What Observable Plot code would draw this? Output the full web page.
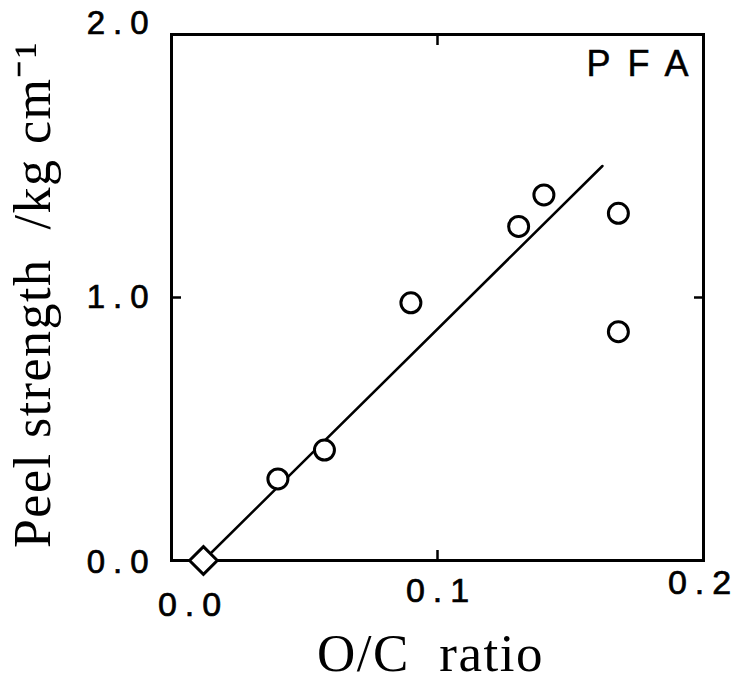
<!DOCTYPE html>
<html>
<head>
<meta charset="utf-8">
<script src="https://cdn.jsdelivr.net/npm/d3@7"></script>
<script src="https://cdn.jsdelivr.net/npm/@observablehq/plot@0.6"></script>
<style>
  html, body { margin: 0; padding: 0; background: #fff; }
  .peel g[aria-label$="tick label"] text { letter-spacing: 8px; stroke: #000; stroke-width: 0.7px; }
  .peel .spaced text { letter-spacing: 17px; stroke: #000; stroke-width: 0.5px; }
  .peel .serif text { letter-spacing: 1.5px; }
</style>
</head>
<body>
<div id="chart"></div>
<script>
// PFA film: peel strength against surface O/C ratio
const ocRatio = [0.040, 0.0575, 0.090, 0.1305, 0.140, 0.168, 0.168];
const peelStrength = [0.31, 0.42, 0.98, 1.27, 1.39, 1.32, 0.87];

// untreated reference sample
const refRatio = [0.012];
const refPeel = [0.0];

// fitted line endpoints
const fitRatio = [0.012, 0.162];
const fitPeel = [0.0, 1.50];

const xTicks = [0, 0.1, 0.2];
const yTicks = [0, 1, 2];

const points = ocRatio.map((x, i) => ({x, y: peelStrength[i]}));
const refPoints = refRatio.map((x, i) => ({x, y: refPeel[i]}));
const fit = fitRatio.map((x, i) => ({x, y: fitPeel[i]}));

const tickFont = "Liberation Sans, Arial, sans-serif";
const serif = "Liberation Serif, Times New Roman, serif";
const fmt = d3.format(".1f");

// per-tick label offsets along the bottom and left edges
const xLabelShift = [{dx: 22, dy: 31}, {dx: 4, dy: 17}, {dx: 0, dy: 9}];
const yLabelShift = [{dy: 2}, {dy: 0}, {dy: -11}];

const chart = Plot.plot({
  className: "peel",
  width: 742,
  height: 697,
  marginLeft: 171,
  marginRight: 39,
  marginTop: 34,
  marginBottom: 137,
  style: {background: "#fff", color: "#000"},
  x: {domain: [0, 0.2]},
  y: {domain: [0, 2]},
  marks: [
    Plot.frame({stroke: "#000", strokeWidth: 3}),
    // inward ticks on all four sides
    Plot.axisX({anchor: "bottom", ticks: [0.1], tickSize: -10, tickFormat: () => "", label: null, strokeWidth: 2.5}),
    Plot.axisX({anchor: "top", ticks: [0.1], tickSize: -10, tickFormat: () => "", label: null, strokeWidth: 2.5}),
    Plot.axisY({anchor: "left", ticks: [1], tickSize: -10, tickFormat: () => "", label: null, strokeWidth: 2.5}),
    Plot.axisY({anchor: "right", ticks: [1], tickSize: -10, tickFormat: () => "", label: null, strokeWidth: 2.5}),
    // tick labels
    ...xTicks.map((t, i) => Plot.axisX({
      anchor: "bottom", ticks: [t], tickSize: 0, tickPadding: 0,
      dx: xLabelShift[i].dx, dy: xLabelShift[i].dy,
      tickFormat: fmt, label: null, fontSize: 34, fontFamily: tickFont
    })),
    ...yTicks.map((t, i) => Plot.axisY({
      anchor: "left", ticks: [t], tickSize: 0, tickPadding: 15,
      dy: yLabelShift[i].dy,
      tickFormat: fmt, label: null, fontSize: 33, fontFamily: tickFont
    })),
    // fitted trend
    Plot.line(fit, {x: "x", y: "y", stroke: "#000", strokeWidth: 2.5}),
    // measurements
    Plot.dot(points, {x: "x", y: "y", r: 10, symbol: "circle", stroke: "#000", fill: "#fff", strokeWidth: 3}),
    Plot.dot(refPoints, {x: "x", y: "y", r: 12.5, symbol: "diamond2", stroke: "#000", fill: "#fff", strokeWidth: 3}),
    // annotations
    Plot.text(["PFA"], {frameAnchor: "top-right", dx: 2, dy: 16, fontSize: 36, fontFamily: tickFont, textAnchor: "end", className: "spaced"}),
    Plot.text(["Peel strength  /kg cm\u207B\u00B9"], {frameAnchor: "left", textAnchor: "middle", dx: -138, dy: -3, rotate: -90, fontSize: 52, fontFamily: serif, className: "serif"}),
    Plot.text(["O/C  ratio"], {frameAnchor: "bottom", dx: -7, dy: 110, fontSize: 53, fontFamily: serif, className: "serif"})
  ]
});

document.getElementById("chart").appendChild(chart);
</script>
</body>
</html>
